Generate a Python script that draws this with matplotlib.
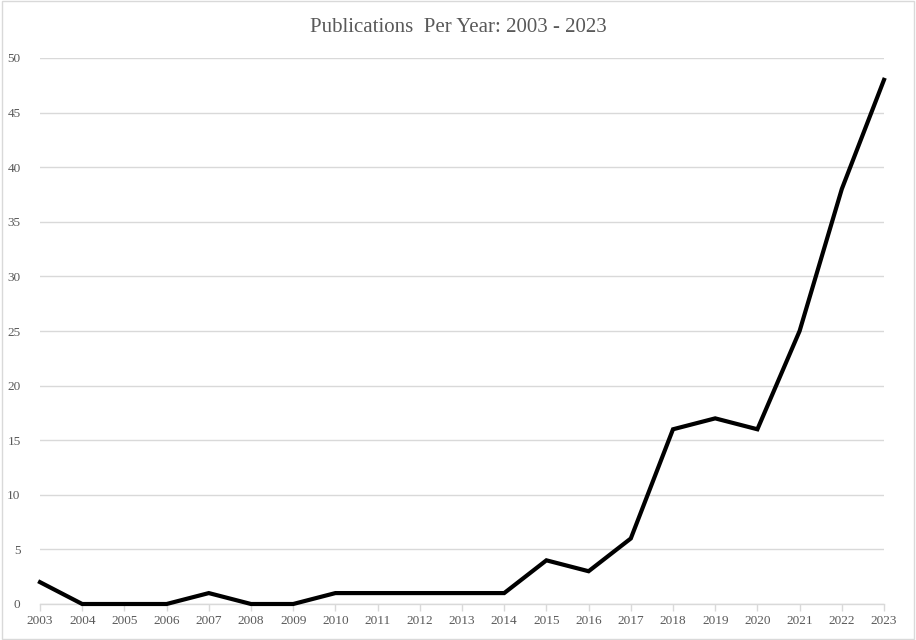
import matplotlib.pyplot as plt
from matplotlib.patches import Rectangle

years = list(range(2003, 2024))
publications = [2, 0, 0, 0, 1, 0, 0, 1, 1, 1, 1, 1, 4, 3, 6, 16, 17, 16, 25, 38, 48]
y_ticks = [0, 5, 10, 15, 20, 25, 30, 35, 40, 45, 50]

plt.rcParams['font.family'] = ['Liberation Serif', 'DejaVu Serif']

fig = plt.figure(figsize=(9.16, 6.4), dpi=100)
ax = fig.add_axes([40 / 916, 36 / 640, 844 / 916, 546 / 640])

ax.plot(years, publications, color='black', linewidth=3, solid_joinstyle='miter',
        clip_on=False, zorder=3)

ax.set_xlim(2003, 2023)
ax.set_ylim(0, 50)
ax.set_xticks(years)
ax.set_xticklabels([str(y) for y in years])
ax.set_yticks(y_ticks)
ax.grid(axis='y', color='#d9d9d9', linewidth=1)
ax.set_axisbelow(True)

for s in ['top', 'right', 'left']:
    ax.spines[s].set_visible(False)
ax.spines['bottom'].set_color('#d9d9d9')
ax.spines['bottom'].set_linewidth(1)
ax.tick_params(axis='x', colors='#d9d9d9', labelcolor='#595959', labelsize=9.5, length=5, width=1, pad=3)
ax.tick_params(axis='y', length=0, labelcolor='#595959', labelsize=9.5, pad=14)

fig.text(0.5, 1 - 28 / 640, 'Publications  Per Year: 2003 - 2023', ha='center', va='center',
         fontsize=15, color='#595959')

fig.patches.append(Rectangle((0.002, 0.002), 0.996, 0.996, transform=fig.transFigure,
                             fill=False, edgecolor='#d9d9d9', linewidth=1))

fig.savefig('out.png', dpi=100)
